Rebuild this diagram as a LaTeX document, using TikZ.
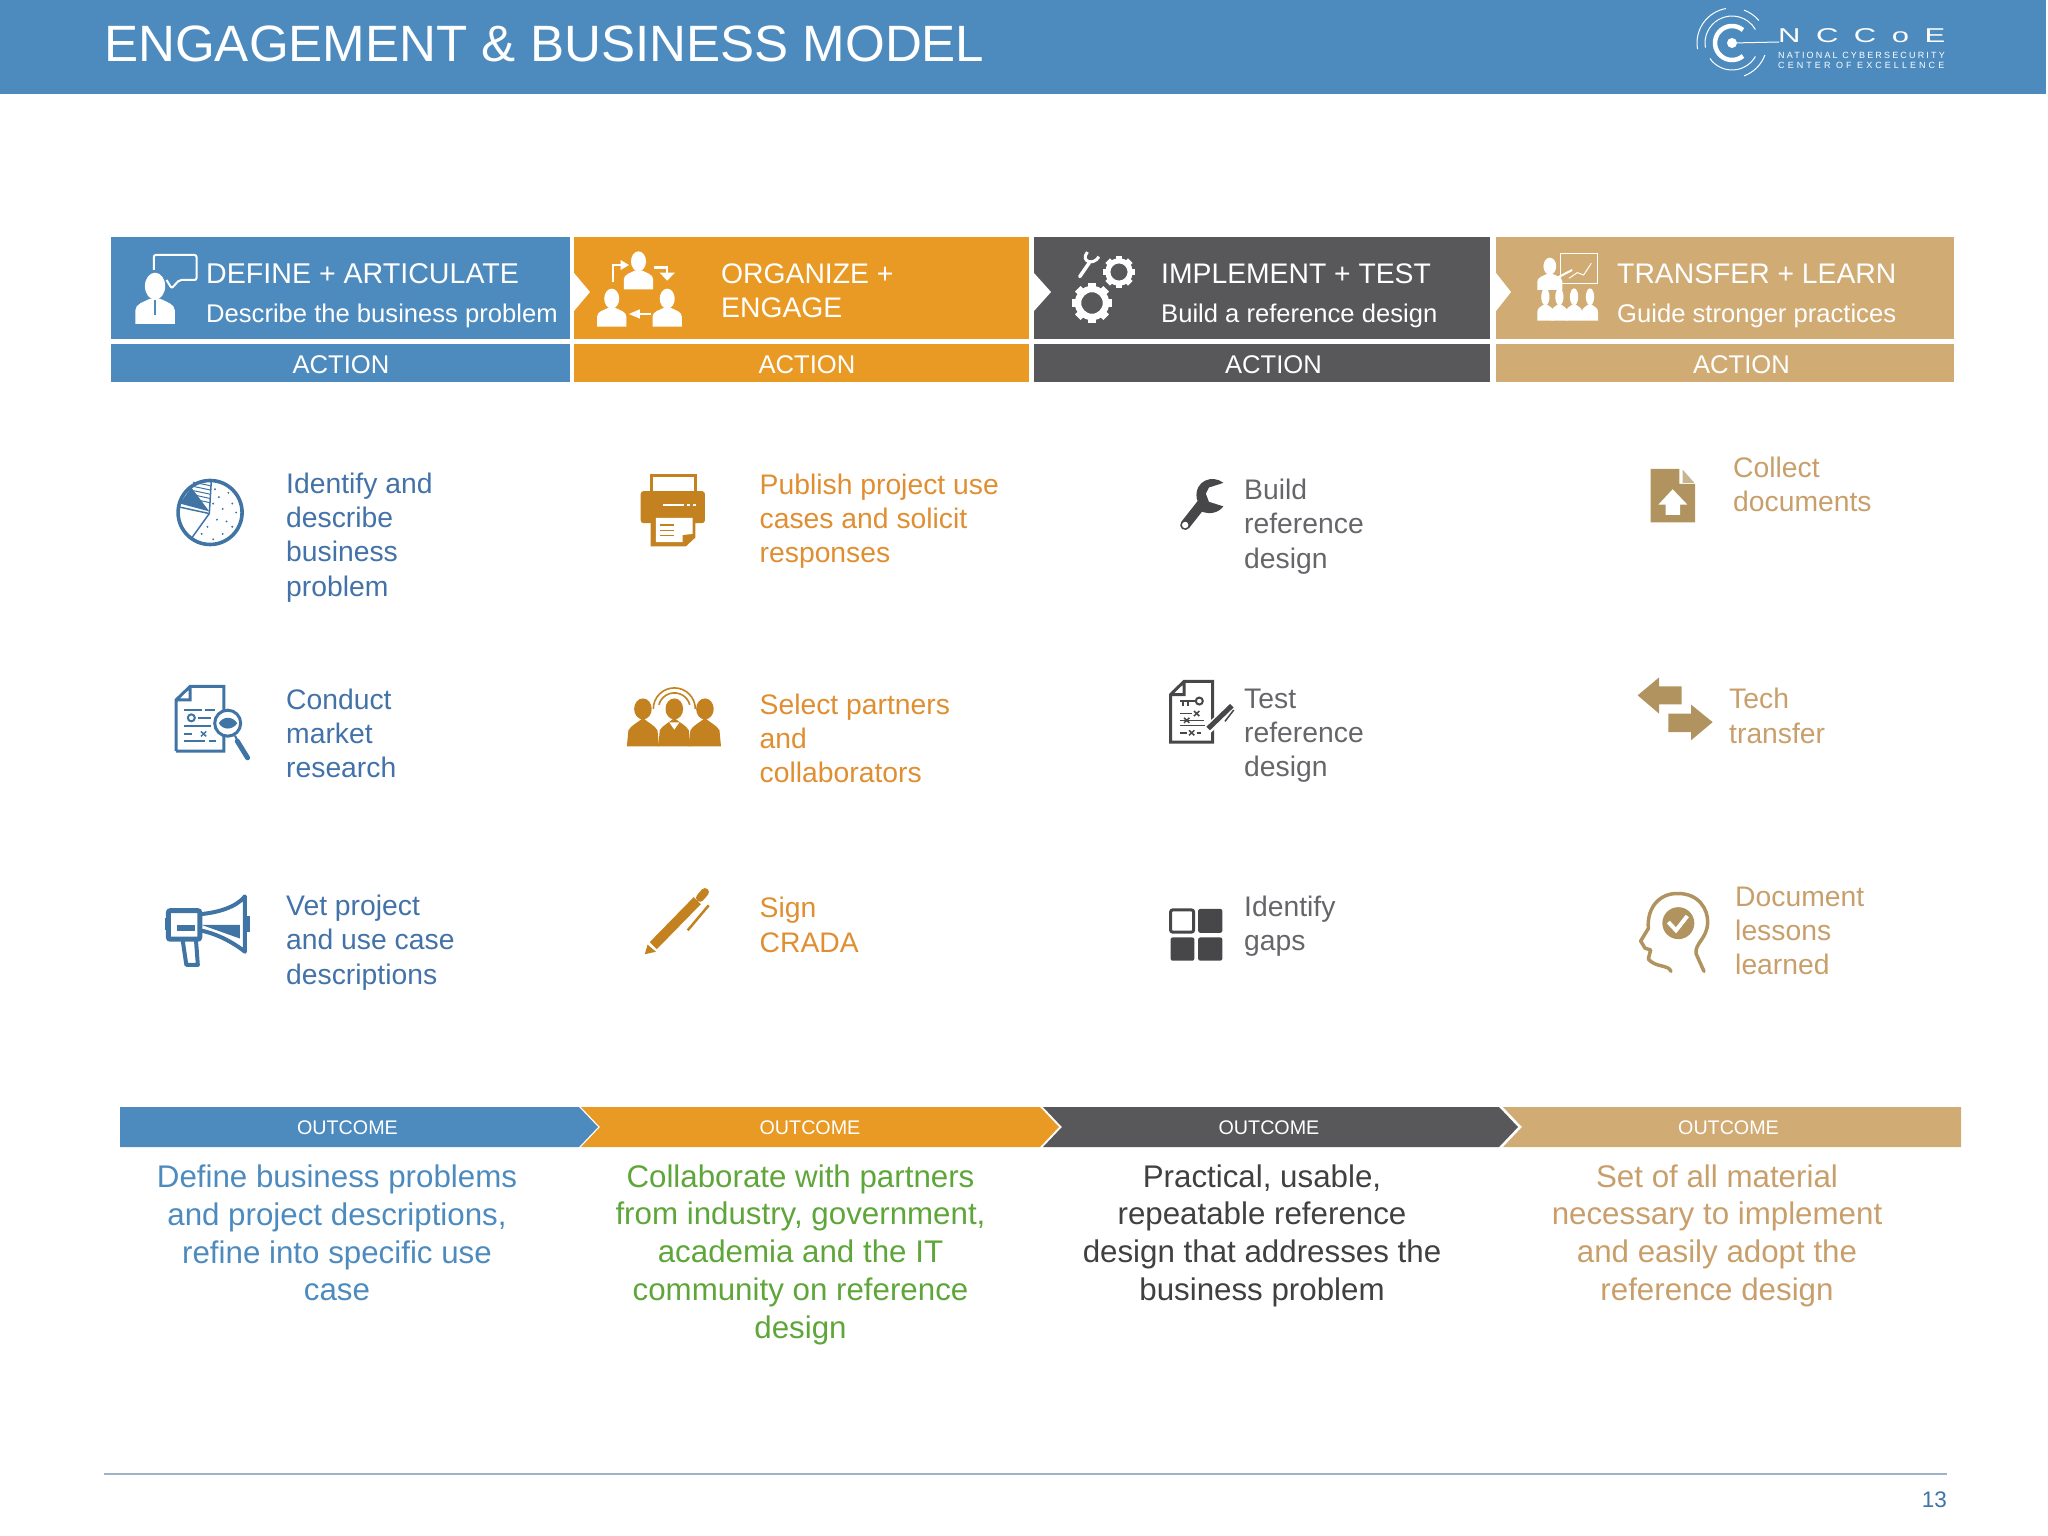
\documentclass[tikz,border=0pt]{standalone}
\usepackage{fontspec}
\usepackage{graphicx}
\setmainfont{Liberation Sans}
\newfontfamily\logofont[LetterSpace=50]{Liberation Sans}
\newfontfamily\logofonta[LetterSpace=24]{Liberation Sans}
\newfontfamily\logofontb[LetterSpace=34]{Liberation Sans}
\usetikzlibrary{scopes}
\definecolor{nccblue}{HTML}{4D8BBF}
\definecolor{nccorange}{HTML}{E99A25}
\definecolor{nccdark}{HTML}{58585A}
\definecolor{ncctan}{HTML}{D1AB74}
\definecolor{textblue}{HTML}{4272A8}
\definecolor{textorange}{HTML}{E08E32}
\definecolor{textgrey}{HTML}{66666A}
\definecolor{texttan}{HTML}{C89F6B}
\definecolor{iconblue}{HTML}{3F74A5}
\definecolor{iconorange}{HTML}{C4811F}
\definecolor{icondark}{HTML}{47474A}
\definecolor{icontan}{HTML}{B0935E}
\definecolor{outgreen}{HTML}{5FA63A}
\definecolor{footline}{HTML}{9FB3C8}

\begin{document}
\begin{tikzpicture}[
    x=1pt,y=-1pt,
    card/.style={rectangle,inner sep=0,anchor=north west,minimum height=102pt},
    actionbar/.style={rectangle,inner sep=0,anchor=north west,minimum height=38pt},
    title/.style={inner sep=0,anchor=west,white,font=\fontsize{51.1}{60}\selectfont},
    head/.style={inner sep=0,anchor=west,white,align=left,font=\fontsize{28.3}{34}\selectfont},
    sub/.style={inner sep=0,anchor=west,white,font=\fontsize{25.6}{31}\selectfont},
    actionlabel/.style={inner sep=0,white,font=\fontsize{25.6}{30}\selectfont},
    outlabel/.style={inner sep=0,white,font=\fontsize{19.7}{24}\selectfont},
    item/.style={inner sep=0,anchor=west,align=left,font=\fontsize{28.3}{34.3}\selectfont},
    outtext/.style={inner sep=0,align=center,font=\fontsize{31.3}{37.7}\selectfont},
    zoomA/.style={shift={(150,450)},x=0.3827pt,y=-0.3571pt},
    zoomB/.style={shift={(1140,450)},x=0.3827pt,y=-0.3571pt},
    zoomC/.style={shift={(1600,450)},x=0.3333pt,y=-0.3571pt},
    zoomD/.style={shift={(90,220)},x=0.6378pt,y=-0.3333pt},
    zoomE/.style={shift={(1030,220)},x=0.6378pt,y=-0.3333pt},
    bust/.pic={
        \fill (-23,0) -- (-23,-30) .. controls (-23,-45) and (-12,-50) .. (-6,-56)
            -- (6,-56) .. controls (12,-50) and (23,-45) .. (23,-30) -- (23,0) -- cycle;
        \fill (0,-84) ellipse [x radius=7.5pt,y radius=10pt];
    },
    gearicon/.pic={
        \draw[line width=.32*#1] (0,0) circle [radius=.7*#1];
        \foreach \a in {0,45,...,315}
            \fill[rotate=\a] (-.2*#1,.7*#1) rectangle (.2*#1,#1);
    },
    xmark/.pic={\draw[line width=1.5pt] (-7,-7) -- (7,7) (-7,7) -- (7,-7);},
]
    \useasboundingbox (0,0) rectangle (2048,1536);

    % title band
    \node[rectangle,fill=nccblue,inner sep=0,anchor=north west,minimum width=2046pt,minimum height=94pt] (band) at (0,0) {};
    \node[title] (pagetitle) at (104,44) {ENGAGEMENT \& BUSINESS MODEL};

    % logo
    {[white]
        \node[circle,fill=white,inner sep=0,minimum size=10pt] (logodot) at (1732,43) {};
        \coordinate (logoend) at (1779,42);
        \draw[line width=1pt] (logodot) -- (logoend);
        \draw[line width=4.5pt] (1732,43) ++(50:17pt) arc [start angle=50,end angle=310,radius=17pt];
        \draw[line width=1pt] (1732,43) ++(30:27pt) arc [start angle=30,end angle=190,radius=27pt];
        \draw[line width=1pt] (1732,43) ++(215:27pt) arc [start angle=215,end angle=330,radius=27pt];
        \draw[line width=1pt] (1732,43) ++(100:35pt) arc [start angle=100,end angle=190,radius=35pt];
        \draw[line width=1pt] (1732,43) ++(70:35pt) arc [start angle=70,end angle=40,radius=35pt];
        \draw[line width=1pt] (1732,43) ++(-70:35pt) arc [start angle=-70,end angle=-20,radius=35pt];
    }
    \node[inner sep=0,anchor=west,white] (logoname) at (1778,36)
        {\scalebox{1.55}[1]{\logofont\fontsize{20}{22}\selectfont NCCoE}};
    \node[inner sep=0,anchor=west,white,font=\logofonta\fontsize{9}{10}\selectfont] (logoline) at (1778,55) {NATIONAL CYBERSECURITY};
    \node[inner sep=0,anchor=west,white,font=\logofontb\fontsize{9}{10}\selectfont] (logolineb) at (1778,65) {CENTER OF EXCELLENCE};

    % head cards
    \node[card,fill=nccblue,minimum width=459pt] (cardblue) at (111,237) {};
    \node[card,fill=nccorange,minimum width=455pt] (cardorange) at (574,237) {};
    \node[card,fill=nccdark,minimum width=456pt] (carddark) at (1034,237) {};
    \node[card,fill=ncctan,minimum width=458pt] (cardtan) at (1496,237) {};
    \fill[white] (574,273) -- (590,292) -- (574,311) -- cycle;
    \fill[white] (1034,273) -- (1051,292) -- (1034,311) -- cycle;
    \fill[white] (1496,273) -- (1511,292) -- (1496,311) -- cycle;

    \node[actionbar,fill=nccblue,minimum width=459pt] (actblue) at (111,344) {};
    \node[actionbar,fill=nccorange,minimum width=455pt] (actorange) at (574,344) {};
    \node[actionbar,fill=nccdark,minimum width=456pt] (actdark) at (1034,344) {};
    \node[actionbar,fill=ncctan,minimum width=458pt] (acttan) at (1496,344) {};
    \node[actionlabel] (labblue) at (341,365) {ACTION};
    \node[actionlabel] (laborange) at (807,365) {ACTION};
    \node[actionlabel] (labdark) at (1273.5,365) {ACTION};
    \node[actionlabel] (labtan) at (1741.5,365) {ACTION};

    \node[head,font=\fontsize{28.6}{34}\selectfont] (defhead) at (206,273.5) {DEFINE + ARTICULATE};
    \node[sub] (defsub) at (206,316) {Describe the business problem};
    \node[head] (orghead) at (721,291) {ORGANIZE +\\ENGAGE};
    \node[head] (imphead) at (1161,273.5) {IMPLEMENT + TEST};
    \node[sub] (impsub) at (1161,316) {Build a reference design};
    \node[head] (trahead) at (1617,273.5) {TRANSFER + LEARN};
    \node[sub] (trasub) at (1617,316) {Guide stronger practices};

    % card icons
    {[zoomD,white]
        \pic[scale=1.35] at (102,312) {bust};
        \draw[nccblue,line width=1.2pt] (102,240) -- (102,285);
        \draw[white,line width=2pt,rounded corners=2pt] (100,150) -- (100,105) -- (167,105) -- (167,180) -- (140,180) -- (128,205) -- (120,180);
        \pic at (860,208) {bust};
        \pic at (818,320) {bust};
        \pic at (905,320) {bust};
        \draw[white,line width=2.5pt] (820,185) -- (820,135) -- (835,135);
        \fill[white] (832,120) -- (845,135) -- (832,150) -- cycle;
        \draw[white,line width=2.5pt] (885,143) -- (905,143) -- (905,160);
        \fill[white] (893,158) -- (917,158) -- (905,182) -- cycle;
        \draw[white,line width=2.5pt] (880,282) -- (860,282);
        \fill[white] (862,268) -- (845,282) -- (862,296) -- cycle;
    }
    {[white]
        \pic at (1119,272) {gearicon=16};
        \pic at (1092,303) {gearicon=20};
    }
    {[zoomE,white]
        \draw[line width=3.5pt,line cap=round] (78,170) -- (93,128);
        \draw[line width=3pt] (90,96) .. controls (78,125) and (100,138) .. (108,110);
        \draw[line width=1.5pt] (832,100) rectangle (890,190);
        \draw[line width=1pt] (845,175) -- (858,158) -- (868,165) -- (880,130);
        \pic[scale=.85] at (815,210) {bust};
        \draw[line width=2pt] (825,175) -- (850,150);
        \pic[xscale=.55,yscale=.85] at (808,302) {bust};
        \pic[xscale=.55,yscale=.85] at (830,302) {bust};
        \pic[xscale=.55,yscale=.85] at (853,302) {bust};
        \pic[xscale=.55,yscale=.85] at (878,302) {bust};
    }

    % action items
    \node[item,textblue] (itemaa) at (286,537.5) {Identify and\\describe\\business\\problem};
    \node[item,textblue] (itemab) at (286,733.5) {Conduct\\market\\research};
    \node[item,textblue] (itemac) at (286,942.5) {Vet project\\and use case\\descriptions};
    \node[item,textorange] (itemba) at (759.5,521) {Publish project use\\cases and solicit\\responses};
    \node[item,textorange] (itembb) at (759.5,738.5) {Select partners\\and\\collaborators};
    \node[item,textorange] (itembc) at (759.5,925) {Sign\\CRADA};
    \node[item,textgrey] (itemca) at (1244,526.5) {Build\\reference\\design};
    \node[item,textgrey] (itemcb) at (1244,735.5) {Test\\reference\\design};
    \node[item,textgrey] (itemcc) at (1244,926.5) {Identify\\gaps};
    \node[item,texttan] (itemda) at (1733,484.5) {Collect\\documents};
    \node[item,texttan] (itemdb) at (1729,716) {Tech\\transfer};
    \node[item,texttan] (itemdc) at (1735,931) {Document\\lessons\\learned};

    % blue icons
    {[zoomA,iconblue,line width=3pt]
        \draw[line width=3.6pt] (157,175) circle [radius=32pt];
        \fill (155,172) -- (78,150) -- (108,105) -- cycle;
        \draw[line width=1.5pt] (155,178) -- (160,90);
        \draw[line width=1.5pt] (155,178) -- (110,245);
        \draw[line width=1.5pt] (155,178) -- (78,160);
        \foreach \y in {100,112,124,136,148}
            \draw[line width=1pt] (158,\y) -- (112+\y*.1-10,\y-10);
        \foreach \p in {(170,110),(180,132),(165,150),(190,165),(205,120),(215,150),(225,175),(200,200),(175,195),(150,215),(190,235),(165,250),(135,235),(215,215)}
            \fill \p circle [radius=1.1pt];

        \draw (68,843) -- (68,700) -- (105,662) -- (193,662) -- (193,730) (193,800) -- (193,843) -- (68,843) (105,662) -- (105,700) -- (68,700);
        \draw[line width=2pt] (90,727) -- (135,727) (145,727) -- (170,727) (125,750) -- (160,750) (90,772) -- (160,772) (90,795) -- (110,795) (90,815) -- (145,815) (155,815) -- (172,815);
        \draw[line width=2pt] (108,750) circle [radius=3.5pt];
        \pic at (140,795) {xmark};
        \draw[fill=white] (203,765) circle [radius=13pt];
        \draw[line width=2pt] (222,800) -- (228,812);
        \draw[line width=5pt,line cap=round] (228,815) -- (255,862);
        \fill (180,765) .. controls (190,745) and (216,745) .. (228,765) .. controls (216,785) and (190,785) .. (180,765) -- cycle;
        \draw[line width=5pt,rounded corners=2pt] (48,1290) rectangle (130,1370);
        \fill (38,1310) rectangle (48,1345);
        \fill (70,1330) rectangle (118,1348);
        \draw[line width=4pt,line join=round] (130,1300) .. controls (180,1295) and (225,1280) .. (248,1250) -- (248,1405) .. controls (225,1385) and (180,1355) .. (130,1345);
        \fill (250,1305) rectangle (262,1350);
        \fill (135,1330) -- (235,1330) -- (235,1368) -- cycle;
        \draw[line width=4pt,line join=round] (85,1370) -- (95,1442) -- (125,1442) -- (120,1370);
    }

    % orange icons
    {[zoomA,iconorange,line width=3pt]
        \fill[rounded corners=3pt] (1282,115) rectangle (1450,205);
        \draw (1310,125) -- (1310,72) -- (1425,72) -- (1425,125);
        \draw[white,line width=2pt] (1340,155) -- (1395,155) (1403,155) -- (1412,155) (1418,155) -- (1426,155);
        \fill (1308,185) -- (1425,185) -- (1425,245) -- (1400,270) -- (1308,270) -- cycle;
        \fill[white] (1322,190) -- (1418,190) -- (1418,235) -- (1392,238) -- (1392,258) -- (1322,258) -- cycle;
        \draw[line width=1.5pt] (1333,210) -- (1370,210) (1333,225) -- (1370,225) (1333,240) -- (1370,240);

        \foreach \x in {1288,1370,1450} {
            \fill (\x,725) ellipse [x radius=8.8pt,y radius=10.5pt];
            \fill (\x-42,830) -- (\x-38,785) .. controls (\x-30,770) and (\x-15,765) .. (\x,750) .. controls (\x+15,765) and (\x+30,770) .. (\x+38,785) -- (\x+42,830) -- cycle;
        }
        \fill[white] (1357,763) -- (1383,763) -- (1370,783) -- cycle;
        \draw[line width=1.6pt] (1370,725) ++(0:21pt) arc [start angle=0,end angle=180,radius=21pt];
        \draw[line width=1.6pt] (1370,725) ++(15:16pt) arc [start angle=15,end angle=165,radius=16pt];

        \draw[line width=10pt] (1315,1388) -- (1430,1262);
        \draw[line width=8pt,line cap=round] (1437,1254) -- (1450,1238);
        \fill (1300,1385) -- (1322,1405) -- (1293,1412) -- cycle;
        \draw[line width=2.5pt] (1405,1345) -- (1460,1275);
    }

    % dark icons
    {[zoomB,icondark,line width=3pt]
        \fill (218,92) .. controls (190,68) and (142,85) .. (148,135) -- (160,172) .. controls (185,182) and (205,175) .. (218,158) -- (180,145) -- (172,122) -- (180,105) -- cycle;
        \draw[line width=10pt,line cap=round] (118,210) -- (162,150);
        \fill[white] (118,210) circle [radius=3.2pt];

        \draw (80,818) -- (80,685) -- (115,648) -- (190,648) -- (190,818) -- cycle (115,648) -- (115,685) -- (80,685);
        \draw[line width=2pt] (155,703) circle [radius=3.5pt];
        \draw[line width=2pt] (105,703) -- (145,703) (112,703) -- (112,718) (125,703) -- (125,716);
        \draw[line width=1.5pt] (105,738) -- (135,738) (105,757) -- (168,757) (105,772) -- (170,772) (105,792) -- (122,792) (148,792) -- (160,792);
        \pic at (148,738) {xmark};
        \pic at (122,757) {xmark};
        \pic at (135,792) {xmark};
        \draw[white,line width=9pt] (170,790) -- (240,718);
        \draw[line width=5pt] (178,780) -- (240,716);
        \draw[line width=1.5pt] (222,760) -- (245,728);

        \draw[rounded corners=2pt] (80,1288) rectangle (140,1350);
        \fill[rounded corners=2pt] (152,1285) rectangle (215,1352);
        \fill[rounded corners=2pt] (80,1365) rectangle (142,1430);
        \fill[rounded corners=2pt] (152,1365) rectangle (215,1430);
    }

    % tan icons
    {[zoomC,icontan,line width=3.5pt]
        \fill (152,53) -- (238,53) -- (238,95) -- (285,95) -- (285,203) -- (152,203) -- cycle;
        \fill[icontan!70] (248,55) -- (283,92) -- (248,92) -- cycle;
        \fill[white] (218,110) -- (262,153) -- (240,153) -- (240,182) -- (197,182) -- (197,153) -- (175,153) -- cycle;

        \fill (113,687) -- (177,637) -- (177,662) -- (245,662) -- (245,712) -- (177,712) -- (177,738) -- cycle;
        \fill (338,762) -- (273,713) -- (273,738) -- (205,738) -- (205,790) -- (273,790) -- (273,813) -- cycle;

        \draw[line cap=round,line join=round] (213,1460) .. controls (205,1440) and (165,1450) .. (145,1425) -- (152,1400) -- (135,1395) -- (122,1375) -- (145,1340) .. controls (140,1280) and (180,1240) .. (235,1242) .. controls (295,1242) and (325,1285) .. (323,1325) .. controls (320,1370) and (285,1380) .. (288,1410) -- (312,1460);
        \fill (235,1325) circle [radius=16pt];
        \draw[white,line width=4pt] (205,1322) -- (228,1345) -- (262,1305);
    }

    % outcome arrows
    \fill[nccblue] (120,1107) -- (579,1107) -- (598,1127) -- (579,1147) -- (120,1147) -- cycle;
    \fill[nccorange] (581,1107) -- (1040,1107) -- (1059,1127) -- (1040,1147) -- (581,1147) -- (600,1127) -- cycle;
    \fill[nccdark] (1043,1107) -- (1499,1107) -- (1518,1127) -- (1499,1147) -- (1043,1147) -- (1062,1127) -- cycle;
    \fill[ncctan] (1503,1107) -- (1961,1107) -- (1961,1147) -- (1503,1147) -- (1522,1127) -- cycle;
    \node[outlabel] (outblue) at (347.5,1127.5) {OUTCOME};
    \node[outlabel] (outorange) at (810,1127.5) {OUTCOME};
    \node[outlabel] (outdark) at (1269,1127.5) {OUTCOME};
    \node[outlabel] (outtan) at (1728.5,1127.5) {OUTCOME};

    \node[outtext,nccblue] (resblue) at (337,1233) {Define business problems\\and project descriptions,\\refine into specific use\\case};
    \node[outtext,outgreen] (resgreen) at (800.5,1254.5) {Collaborate with partners\\from industry, government,\\academia and the IT\\community on reference\\design};
    \node[outtext,black!75] (resdark) at (1262,1235.5) {Practical, usable,\\repeatable reference\\design that addresses the\\business problem};
    \node[outtext,texttan] (restan) at (1717,1235.5) {Set of all material\\necessary to implement\\and easily adopt the\\reference design};

    % footer
    \coordinate (footl) at (104,1474);
    \coordinate (footr) at (1947,1474);
    \draw[footline,line width=1.5pt] (footl) -- (footr);
    \node[inner sep=0,anchor=east,iconblue,font=\fontsize{22.5}{26}\selectfont] (pagenum) at (1947,1500) {13};
\end{tikzpicture}
\end{document}
